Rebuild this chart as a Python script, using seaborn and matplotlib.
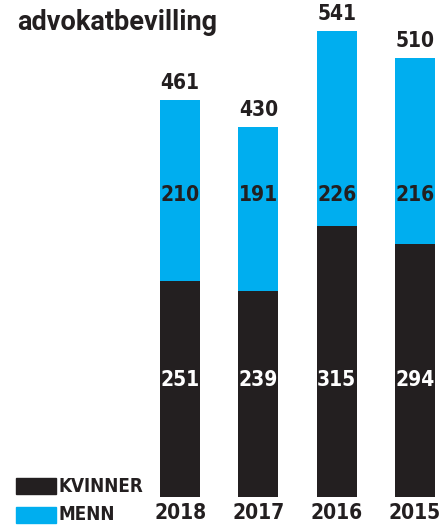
import matplotlib
matplotlib.use("Agg")
import matplotlib.pyplot as plt
import matplotlib.patches as mpatches
import seaborn as sns
import pandas as pd

years = ["2018", "2017", "2016", "2015"]
kvinner = [251, 239, 315, 294]
menn = [210, 191, 226, 216]
totals = [k + m for k, m in zip(kvinner, menn)]

BLACK = "#231f20"
BLUE = "#00aeef"

sns.set_style("white")
plt.rcParams["font.family"] = ["DejaVu Sans"]
plt.rcParams["font.stretch"] = "condensed"

df = pd.DataFrame({"year": years, "kvinner": kvinner, "menn": menn, "total": totals})

fig = plt.figure(figsize=(4.4, 5.26), dpi=100)
ax = fig.add_axes([141 / 440, 29 / 526, 299 / 440, 497 / 526])

sns.barplot(data=df, x="year", y="total", order=years, color=BLUE, width=0.51,
            saturation=1, linewidth=0, ax=ax)
sns.barplot(data=df, x="year", y="kvinner", order=years, color=BLACK, width=0.51,
            saturation=1, linewidth=0, ax=ax)

ax.set_xlim(-0.5, 3.32)
ax.set_ylim(0, 577)
ax.set_xlabel("")
ax.set_ylabel("")
ax.set_yticks([])
sns.despine(ax=ax, left=True, bottom=True)
ax.tick_params(axis="x", length=0, pad=4)
for lbl in ax.get_xticklabels():
    lbl.set_fontsize(15)
    lbl.set_fontweight("bold")
    lbl.set_fontstretch("condensed")
    lbl.set_color(BLACK)

# segment labels sit at the same height in every bar
for i in range(len(years)):
    ax.text(i, 136, str(kvinner[i]), ha="center", va="center",
            color="white", fontsize=15, fontweight="bold", fontstretch="condensed")
    ax.text(i, 351, str(menn[i]), ha="center", va="center",
            color=BLACK, fontsize=15, fontweight="bold", fontstretch="condensed")
    ax.text(i, totals[i] + 8, str(totals[i]), ha="center", va="bottom",
            color=BLACK, fontsize=15, fontweight="bold", fontstretch="condensed")

fig.text(17 / 440, 1 - 23 / 526, "advokatbevilling", ha="left", va="center",
         fontsize=19.5, fontweight="bold", color=BLACK, family=["Roboto", "DejaVu Sans"])

# legend
fig.patches.append(mpatches.Rectangle((16 / 440, 1 - 494 / 526), 40 / 440, 16 / 526,
                                      transform=fig.transFigure, color=BLACK))
fig.patches.append(mpatches.Rectangle((16 / 440, 1 - 523 / 526), 40 / 440, 16 / 526,
                                      transform=fig.transFigure, color=BLUE))
fig.text(58 / 440, 1 - 486 / 526, "KVINNER", ha="left", va="center",
         fontsize=13.5, fontweight="bold", fontstretch="condensed", color=BLACK)
fig.text(58 / 440, 1 - 515 / 526, "MENN", ha="left", va="center",
         fontsize=13.5, fontweight="bold", fontstretch="condensed", color=BLACK)

fig.savefig("out.png", dpi=100)
